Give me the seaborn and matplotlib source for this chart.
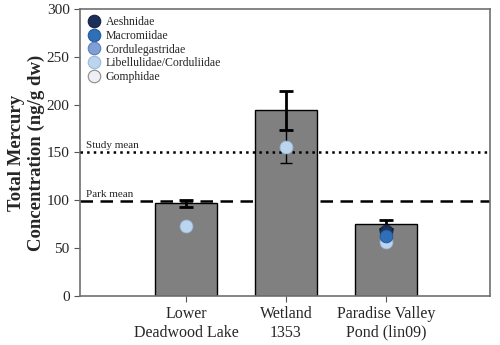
import numpy as np
import pandas as pd
import matplotlib
matplotlib.use('Agg')
import matplotlib.pyplot as plt
from matplotlib.lines import Line2D
import seaborn as sns

sns.set_style('white')
plt.rcParams['font.family'] = ['Liberation Serif', 'DejaVu Serif']

# 站点和柱状图数据
sites = ['Lower\nDeadwood Lake', 'Wetland\n1353', 'Paradise Valley\nPond (lin09)']
bar_mean = [97, 194, 75]
bar_err = [3.5, 20.5, 4.5]

# 各科数据点
families = ['Aeshnidae', 'Macromiidae', 'Cordulegastridae', 'Libellulidae/Corduliidae', 'Gomphidae']
fam_colors = ['#1c2f5a', '#2f6fb8', '#7f9fd6', '#bcd5ef', '#eeeef6']
fam_edges = ['#15213f', '#24579a', '#5f7fb8', '#9fb8d6', '#8a8a8a']
pt_family = ['Aeshnidae', 'Libellulidae/Corduliidae', 'Libellulidae/Corduliidae',
             'Libellulidae/Corduliidae', 'Macromiidae']
pt_site = [2, 0, 1, 2, 2]
pt_value = [68, 73, 156, 56, 63]
pt_err = [3, 2, 17.5, 2, 2]

study_mean = 151
park_mean = 99

bars = pd.DataFrame({'site': sites, 'mean': bar_mean})
pts = pd.DataFrame({'family': pt_family, 'x': pt_site, 'value': pt_value, 'err': pt_err})

fig = plt.figure(figsize=(5, 3.45), dpi=100)
ax = fig.add_axes([0.16, 0.142, 0.82, 0.832])

sns.barplot(data=bars, x='site', y='mean', color='#808080', saturation=1,
            edgecolor='black', linewidth=1, width=0.62, ax=ax, zorder=2)
ax.errorbar(range(len(sites)), bar_mean, yerr=bar_err, fmt='none', ecolor='black',
            elinewidth=2, capsize=5, capthick=2, zorder=3)

# 参考线
ax.axhline(study_mean, color='black', linestyle=':', linewidth=1.8, zorder=4)
ax.axhline(park_mean, color='black', linestyle=(0, (5, 3)), linewidth=1.8, zorder=1.5)
ax.text(-1.0, study_mean + 2, 'Study mean', fontsize=8, va='bottom')
ax.text(-1.0, park_mean + 2, 'Park mean', fontsize=8, va='bottom')

# 数据点及误差
cmap = dict(zip(families, fam_colors))
emap = dict(zip(families, fam_edges))
for fam in ['Aeshnidae', 'Libellulidae/Corduliidae', 'Macromiidae']:
    sub = pts[pts['family'] == fam]
    ax.errorbar(sub['x'], sub['value'], yerr=sub['err'], fmt='none', ecolor='black',
                elinewidth=1, capsize=4, capthick=1, zorder=5)
    ax.scatter(sub['x'], sub['value'], s=85, color=cmap[fam], edgecolor=emap[fam],
               linewidth=0.6, zorder=6)

ax.set_xlim(-1.06, 3.04)
ax.set_ylim(0, 300)
ax.set_yticks(np.arange(0, 301, 50))
ax.set_xlabel('')
ax.set_ylabel('Total Mercury\nConcentration (ng/g dw)', fontsize=13.5, fontweight='bold',
              labelpad=1)
ax.tick_params(axis='x', labelsize=11.5, direction='out', length=4, color='#555555', bottom=True)
ax.tick_params(axis='y', labelsize=11, direction='out', length=4, color='#555555', left=True)
for s in ax.spines.values():
    s.set_color('#707070')
    s.set_linewidth(1.2)

handles = [Line2D([], [], marker='o', linestyle='none', markersize=9,
                  markerfacecolor=c, markeredgecolor=e, markeredgewidth=0.8)
           for c, e in zip(fam_colors, fam_edges)]
ax.legend(handles, families, loc='upper left', frameon=False, fontsize=8.5,
          handletextpad=0.4, labelspacing=0.15, borderaxespad=0.2, borderpad=0.4,
          handlelength=1.2, bbox_to_anchor=(0.0, 1.0))

fig.savefig('out.png', dpi=100)
